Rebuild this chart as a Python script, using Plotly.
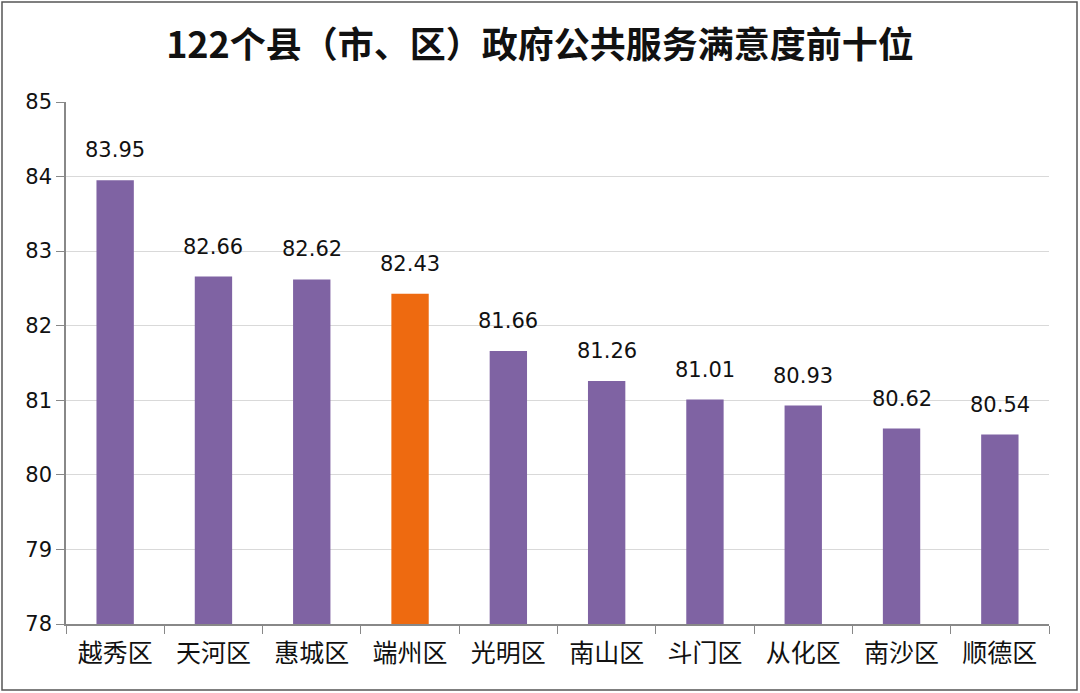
import plotly.graph_objects as go

categories = ["越秀区", "天河区", "惠城区", "端州区", "光明区", "南山区", "斗门区", "从化区", "南沙区", "顺德区"]
values = [83.95, 82.66, 82.62, 82.43, 81.66, 81.26, 81.01, 80.93, 80.62, 80.54]
highlight = "端州区"
y_ticks = [78, 79, 80, 81, 82, 83, 84, 85]
title_text = "122个县（市、区）政府公共服务满意度前十位"

PURPLE = "#7F63A3"
ORANGE = "#EE6A10"
colors = [ORANGE if c == highlight else PURPLE for c in categories]

fig = go.Figure()
fig.add_trace(go.Bar(
    x=categories, y=values,
    marker=dict(color=colors, line=dict(width=0)),
    hoverinfo="skip",
))

for c, v in zip(categories, values):
    fig.add_annotation(
        x=c, y=v, text=f"{v:.2f}", showarrow=False,
        yanchor="bottom", yshift=16,
        font=dict(family="DejaVu Sans", size=21, color="#111111"),
    )

# outer frame
L, R, T, B = 66, 31, 102, 69
W, H = 1080, 693
pw, ph = W - L - R, H - T - B
fig.add_shape(
    type="rect", xref="paper", yref="paper",
    x0=(2 - L) / pw, x1=(1077 - L) / pw,
    y0=-(690 - (H - B)) / ph, y1=1 + (T - 2) / ph,
    line=dict(color="#555555", width=1.5), fillcolor="rgba(0,0,0,0)", layer="below",
)

fig.update_layout(
    width=W, height=H,
    margin=dict(l=L, r=R, t=T, b=B),
    paper_bgcolor="white", plot_bgcolor="white",
    showlegend=False,
    bargap=0.62,
    title=dict(
        text=f"<b>{title_text}</b>", x=0.5, xanchor="center", xref="container",
        y=1 - 45 / H, yanchor="middle",
        font=dict(family="Noto Sans CJK SC", size=36, color="#111111"),
    ),
    xaxis=dict(
        type="category", showline=True, linecolor="#888888", linewidth=1.5,
        ticks="outside", tickson="boundaries", ticklen=8, tickcolor="#888888",
        tickfont=dict(family="Noto Sans CJK SC", size=25, color="#111111"),
        ticklabelstandoff=6,
        showgrid=False,
    ),
    yaxis=dict(
        range=[78, 85], tickmode="array",
        tickvals=y_ticks, ticktext=[str(t) for t in y_ticks],
        showline=True, linecolor="#888888", linewidth=1.5,
        ticks="outside", ticklen=8, tickcolor="#888888",
        showgrid=True, gridcolor="#D9D9D9", gridwidth=1,
        tickfont=dict(family="DejaVu Sans", size=21, color="#111111"),
        zeroline=False,
    ),
)

fig.write_html("out.html")
